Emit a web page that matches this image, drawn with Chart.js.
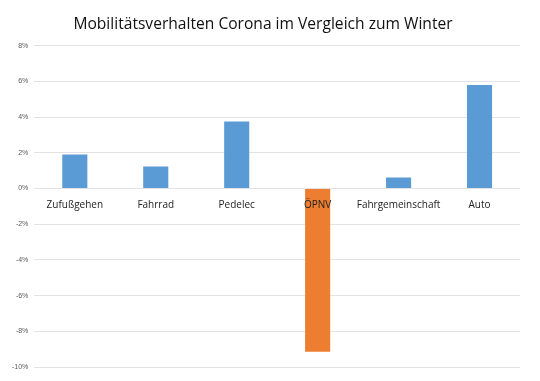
<!DOCTYPE html>
<html>
<head>
<meta charset="utf-8">
<script src="https://cdn.jsdelivr.net/npm/chart.js@4.4.0/dist/chart.umd.min.js"></script>
<style>
html,body{margin:0;padding:0;background:#fff;}
#wrap{width:540px;height:381px;}
</style>
</head>
<body>
<div id="wrap"><canvas id="c" width="540" height="381"></canvas></div>
<script>
const categories = ["Zufußgehen", "Fahrrad", "Pedelec", "ÖPNV", "Fahrgemeinschaft", "Auto"];
const values = [1.9, 1.23, 3.75, -9.15, 0.62, 5.8];
const barColors = ["#5b9bd5", "#5b9bd5", "#5b9bd5", "#ed7d31", "#5b9bd5", "#5b9bd5"];
const yMin = -10, yMax = 8, yStep = 2;
const titleText = "Mobilitätsverhalten Corona im Vergleich zum Winter";

const catLabelPlugin = {
  id: 'catLabels',
  afterDatasetsDraw(chart) {
    const ctx = chart.ctx;
    const xs = chart.scales.x, ys = chart.scales.y;
    const y0 = ys.getPixelForValue(0);
    ctx.save();
    ctx.font = '10px "Open Sans", "Liberation Sans", sans-serif';
    ctx.fillStyle = '#222';
    ctx.textAlign = 'center';
    ctx.textBaseline = 'middle';
    categories.forEach((c, i) => {
      ctx.fillText(c, xs.getPixelForValue(i), y0 + 17);
    });
    ctx.restore();
  }
};

new Chart(document.getElementById('c'), {
  type: 'bar',
  data: {
    labels: categories,
    datasets: [{
      data: values,
      backgroundColor: barColors,
      borderWidth: 0,
      categoryPercentage: 1,
      barPercentage: 0.31
    }]
  },
  options: {
    responsive: false,
    animation: false,
    layout: { padding: { left: 6, right: 20, top: 4, bottom: 14 } },
    plugins: {
      legend: { display: false },
      tooltip: { enabled: false },
      title: {
        display: true,
        text: titleText,
        color: '#111',
        font: { family: '"Open Sans", "Liberation Sans", sans-serif', size: 15.6, weight: 'normal' },
        padding: { top: 11, bottom: 12 }
      }
    },
    scales: {
      x: { display: false },
      y: {
        min: yMin, max: yMax,
        ticks: {
          stepSize: yStep,
          callback: v => v + '%',
          color: '#595959',
          font: { family: '"Liberation Sans", sans-serif', size: 7 },
          padding: 6
        },
        grid: { color: '#e3e3e3', drawTicks: false },
        border: { display: false }
      }
    }
  },
  plugins: [catLabelPlugin]
});
</script>
</body>
</html>
